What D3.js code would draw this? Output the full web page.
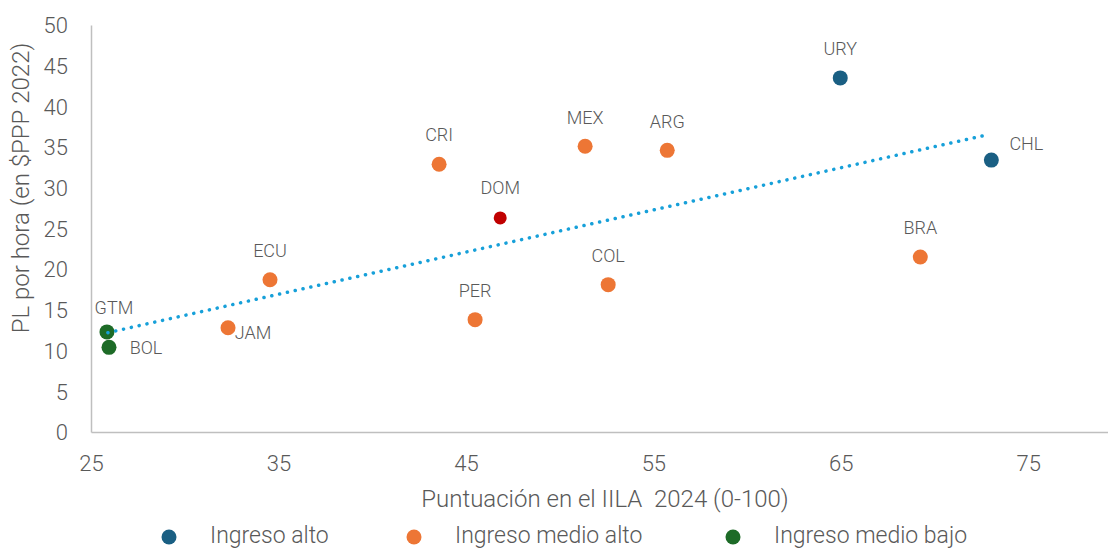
<!DOCTYPE html>
<html>
<head>
<meta charset="utf-8">
<script src="https://cdn.jsdelivr.net/npm/d3@7"></script>
<style>
  html, body { margin: 0; padding: 0; background: #fff; }
  svg { display: block; }
  text { font-family: Roboto, "Noto Sans", sans-serif; font-weight: 300; fill: #595959; white-space: pre; }
</style>
</head>
<body>
<svg id="chart" width="1108" height="550"></svg>
<script>
// ---- Data ----
const countries = ["GTM","BOL","JAM","ECU","CRI","PER","DOM","MEX","COL","ARG","URY","CHL","BRA"];
const iilaScore = [25.85, 25.96, 32.31, 34.55, 43.57, 45.49, 46.83, 51.36, 52.59, 55.74, 64.97, 73.03, 69.24];
const plPerHour = [12.3, 10.4, 12.8, 18.7, 32.9, 13.8, 26.3, 35.1, 18.1, 34.6, 43.5, 33.4, 21.5];
const incomeGroup = ["Ingreso medio bajo","Ingreso medio bajo","Ingreso medio alto","Ingreso medio alto",
  "Ingreso medio alto","Ingreso medio alto","Destacado","Ingreso medio alto","Ingreso medio alto",
  "Ingreso medio alto","Ingreso alto","Ingreso alto","Ingreso medio alto"];
const legendGroups = ["Ingreso alto","Ingreso medio alto","Ingreso medio bajo"];
const trendX = [25.9, 72.8];
const trendY = [12.2, 36.5];
const xTicks = [25, 35, 45, 55, 65, 75];
const yTicks = [0, 5, 10, 15, 20, 25, 30, 35, 40, 45, 50];
const xTitle = "Puntuación en el IILA  2024 (0-100)";
const yTitle = "PL por hora (en $PPP 2022)";

// ---- Styles ----
const colors = {"Ingreso alto": "#1a5f83", "Ingreso medio alto": "#ed7635", "Ingreso medio bajo": "#1d6b27", "Destacado": "#c00000"};
// label placement: [dx, dy] offset from point centre to label centre
const labelOffset = {
  GTM: [7, -24], BOL: [37, 0], JAM: [25, 5], ECU: [0, -29], CRI: [0, -29], PER: [0, -29],
  DOM: [0, -30], MEX: [0, -29], COL: [0, -29], ARG: [0, -29], URY: [0, -29], CHL: [35, -16], BRA: [0, -29]
};

const svg = d3.select("#chart");
const x = d3.scaleLinear().domain([25, 80]).range([91, 1122]);
const y = d3.scaleLinear().domain([0, 50]).range([432, 25]);

// axes
const xAxis = svg.append("g").attr("transform", `translate(0,${y(0)})`)
  .call(d3.axisBottom(x).tickValues(xTicks).tickSize(0).tickSizeOuter(0).tickFormat(d3.format("d")));
xAxis.select(".domain").attr("stroke", "#bfbfbf").attr("stroke-width", 1.5);
xAxis.selectAll("text").attr("y", 31).attr("dy", "0.35em").style("font-size", "22px").attr("fill", "#595959");

const yAxis = svg.append("g").attr("transform", `translate(${x(25)},0)`)
  .call(d3.axisLeft(y).tickValues(yTicks).tickSize(0).tickSizeOuter(0).tickPadding(23));
yAxis.select(".domain").attr("stroke", "#bfbfbf").attr("stroke-width", 1.5);
yAxis.selectAll("text").attr("dy", "0.35em").style("font-size", "22px").attr("fill", "#595959");

// axis titles
svg.append("text").attr("x", 605).attr("y", 499).attr("dy", "0.35em")
  .attr("text-anchor", "middle").style("font-size", "24px").text(xTitle);
svg.append("text").attr("transform", `translate(21,${188}) rotate(-90)`).attr("dy", "0.35em")
  .attr("text-anchor", "middle").style("font-size", "24px").text(yTitle);

// points data
const pts = countries.map((c, i) => ({c, x: iilaScore[i], y: plPerHour[i], g: incomeGroup[i]}));

// markers
svg.append("g").selectAll("circle").data(pts).enter().append("circle")
  .attr("cx", d => x(d.x)).attr("cy", d => y(d.y))
  .attr("r", d => d.g === "Destacado" ? 6.5 : 7.5)
  .attr("fill", d => colors[d.g]);

// trend line (dotted) drawn above markers
const trend = trendX.map((v, i) => [v, trendY[i]]);
svg.append("path").datum(trend)
  .attr("d", d3.line().x(d => x(d[0])).y(d => y(d[1])))
  .attr("fill", "none").attr("stroke", "#17a0d9").attr("stroke-width", 3.5)
  .attr("stroke-linecap", "round").attr("stroke-dasharray", "0.1 7.9");

// labels
svg.append("g").selectAll("text").data(pts).enter().append("text")
  .attr("x", d => x(d.x) + labelOffset[d.c][0])
  .attr("y", d => y(d.y) + labelOffset[d.c][1])
  .attr("dy", "0.35em").attr("text-anchor", "middle")
  .style("font-size", "18px").text(d => d.c);

// legend
const legendX = [169, 414, 733];
const lg = svg.append("g");
legendGroups.forEach((g, i) => {
  lg.append("circle").attr("cx", legendX[i]).attr("cy", 537).attr("r", 7.5).attr("fill", colors[g]);
  lg.append("text").attr("x", legendX[i] + 41).attr("y", 535).attr("dy", "0.35em")
    .style("font-size", "23px").text(g);
});
</script>
</body>
</html>
